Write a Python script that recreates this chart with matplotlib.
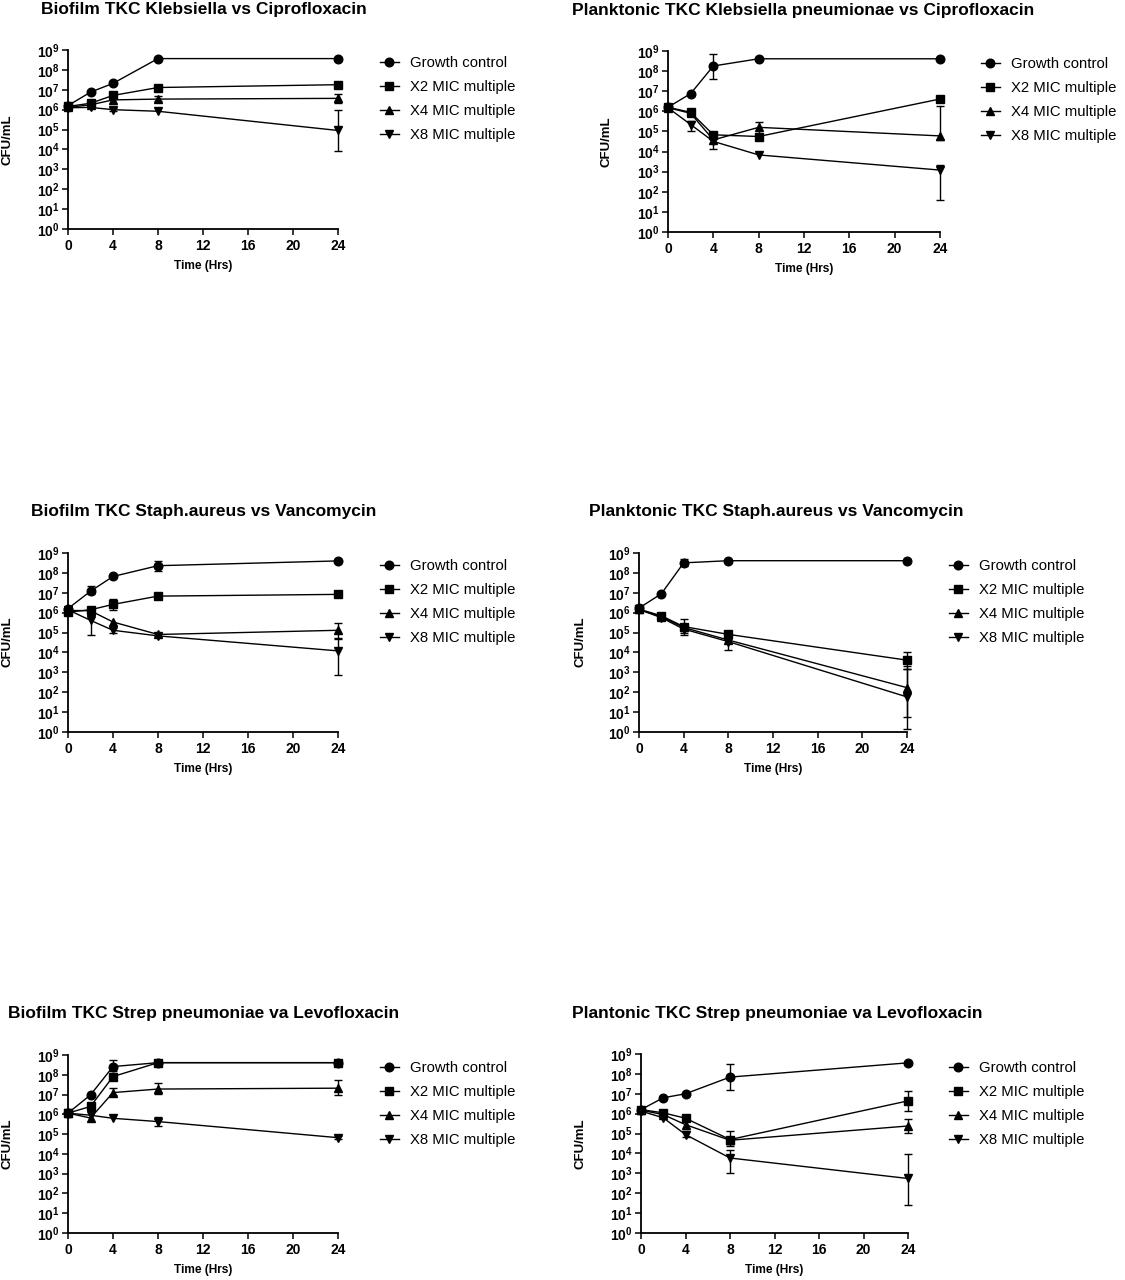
import numpy as np
import matplotlib
matplotlib.use("Agg")
import matplotlib.pyplot as plt
from matplotlib.ticker import FixedLocator, FixedFormatter

plt.rcParams['font.family'] = ['Liberation Sans', 'DejaVu Sans']
plt.rcParams['mathtext.fontset'] = 'custom'
plt.rcParams['mathtext.rm'] = 'Liberation Sans'
plt.rcParams['mathtext.bf'] = 'Liberation Sans:bold'

# ---------------- data ----------------
TIME_H = [0, 2, 4, 8, 24]
SERIES = ['Growth control', 'X2 MIC multiple', 'X4 MIC multiple', 'X8 MIC multiple']
X_TICKS = [0, 4, 8, 12, 16, 20, 24]
Y_EXPONENTS = list(range(0, 10))
X_LABEL = 'Time (Hrs)'
Y_LABEL = 'CFU/mL'
N = None

# Panel 1
P1_TITLE = 'Biofilm TKC Klebsiella vs Ciprofloxacin'
P1_GC = [1.6e6, 7.6e6, 2.1e7, 3.7e8, 3.7e8]
P1_X2 = [1.45e6, 2.1e6, 5.2e6, 1.3e7, 1.8e7]
P1_X4 = [1.3e6, 1.75e6, 3.1e6, 3.4e6, 3.7e6]
P1_X8 = [1.25e6, 1.3e6, 1.0e6, 8.3e5, 9.0e4]
P1_GC_LO, P1_GC_HI = [N, N, N, N, N], [N, N, N, N, N]
P1_X2_LO, P1_X2_HI = [N, N, 4.4e6, 1.05e7, N], [N, N, 6.3e6, 1.6e7, N]
P1_X4_LO, P1_X4_HI = [N, N, N, 2.6e6, 2.1e6], [N, N, N, 4.9e6, 6.4e6]
P1_X8_LO, P1_X8_HI = [N, N, 8.5e5, N, 8.0e3], [N, N, 1.2e6, N, 9.3e5]

# Panel 2
P2_TITLE = 'Planktonic TKC Klebsiella pneumionae vs Ciprofloxacin'
P2_GC = [1.6e6, 7.6e6, 1.8e8, 4.1e8, 4.1e8]
P2_X2 = [1.6e6, 8.9e5, 6.8e4, 5.6e4, 4.1e6]
P2_X4 = [1.5e6, 8.0e5, 3.8e4, 1.6e5, 6.0e4]
P2_X8 = [1.5e6, 2.2e5, 3.2e4, 6.8e3, 1.2e3]
P2_GC_LO, P2_GC_HI = [N, N, 4.1e7, N, N], [N, N, 7.4e8, N, N]
P2_X2_LO, P2_X2_HI = [N, N, N, N, N], [N, N, N, N, N]
P2_X4_LO, P2_X4_HI = [N, N, N, 7.6e4, 3.8e4], [N, N, N, 2.8e5, 1.8e6]
P2_X8_LO, P2_X8_HI = [N, 1.1e5, 1.3e4, N, 41], [N, 3.4e5, 4.1e4, N, 2.2e3]

# Panel 3
P3_TITLE = 'Biofilm TKC Staph.aureus vs Vancomycin'
P3_GC = [1.6e6, 1.2e7, 6.6e7, 2.3e8, 4.0e8]
P3_X2 = [1.07e6, 1.4e6, 2.6e6, 6.8e6, 8.3e6]
P3_X4 = [1.3e6, 1.25e6, 3.4e5, 8.0e4, 1.3e5]
P3_X8 = [1.4e6, 4.1e5, 1.3e5, 6.8e4, 1.2e4]
P3_GC_LO, P3_GC_HI = [N, 8.3e6, N, 1.2e8, N], [N, 2.1e7, N, 3.8e8, N]
P3_X2_LO, P3_X2_HI = [N, N, 1.3e6, N, N], [N, N, 4.6e6, N, N]
P3_X4_LO, P3_X4_HI = [N, N, N, 6.5e4, 5.4e4], [N, N, N, 1.0e5, 3.2e5]
P3_X8_LO, P3_X8_HI = [N, 7.4e4, 1.0e5, N, 7.4e2], [N, 9.6e5, 1.6e5, N, 5.0e4]

# Panel 4
P4_TITLE = 'Planktonic TKC Staph.aureus vs Vancomycin'
P4_GC = [1.7e6, 8.9e6, 3.2e8, 4.1e8, 4.1e8]
P4_X2 = [1.5e6, 7.0e5, 2.0e5, 8.1e4, 4.1e3]
P4_X4 = [1.45e6, 6.3e5, 1.8e5, 4.2e4, 1.7e2]
P4_X8 = [1.45e6, 5.6e5, 1.5e5, 3.5e4, 58]
P4_GC_LO, P4_GC_HI = [N, N, 2.1e8, N, N], [N, N, 5.0e8, N, N]
P4_X2_LO, P4_X2_HI = [N, N, 1.0e5, N, 1.5e3], [N, N, 4.8e5, N, 1.07e4]
P4_X4_LO, P4_X4_HI = [N, N, N, N, 5.5], [N, N, N, N, 2.2e3]
P4_X8_LO, P4_X8_HI = [N, N, 7.5e4, 1.3e4, 1.35], [N, N, 2.5e5, 1.0e5, 1.5e3]

# Panel 5
P5_TITLE = 'Biofilm TKC Strep pneumoniae va Levofloxacin'
P5_GC = [1.15e6, 9.6e6, 2.6e8, 4.1e8, 4.1e8]
P5_X2 = [1.15e6, 2.5e6, 8.1e7, 4.1e8, 4.1e8]
P5_X4 = [1.15e6, 6.5e5, 1.26e7, 1.9e7, 2.1e7]
P5_X8 = [1.15e6, 9.0e5, 6.3e5, 4.3e5, 6.6e4]
P5_GC_LO, P5_GC_HI = [N, N, 1.5e8, N, N], [N, N, 5.6e8, N, N]
P5_X2_LO, P5_X2_HI = [N, N, N, N, N], [N, N, N, N, N]
P5_X4_LO, P5_X4_HI = [N, N, 9.5e6, 1.07e7, 9.5e6], [N, N, 2.1e7, 3.7e7, 5.5e7]
P5_X8_LO, P5_X8_HI = [N, N, N, 2.6e5, 5.5e4], [N, N, N, 7.1e5, 8.0e4]

# Panel 6
P6_TITLE = 'Plantonic TKC Strep pneumoniae va Levofloxacin'
P6_GC = [1.6e6, 6.3e6, 1.0e7, 6.9e7, 3.6e8]
P6_X2 = [1.6e6, 1.1e6, 5.9e5, 5.0e4, 4.4e6]
P6_X4 = [1.5e6, 9.0e5, 2.8e5, 4.6e4, 2.4e5]
P6_X8 = [1.35e6, 6.2e5, 8.9e4, 5.9e3, 5.5e2]
P6_GC_LO, P6_GC_HI = [N, N, N, 1.5e7, N], [N, N, N, 3.2e8, N]
P6_X2_LO, P6_X2_HI = [N, N, N, 3.0e4, 1.4e6], [N, N, N, 1.3e5, 1.45e7]
P6_X4_LO, P6_X4_HI = [N, N, N, 2.5e4, 1.1e5], [N, N, N, N, 5.4e5]
P6_X8_LO, P6_X8_HI = [N, N, 6.8e4, 1.1e3, 25], [N, N, 1.3e5, 1.55e4, 9.5e3]

PANELS = [
    (P1_TITLE, [P1_GC, P1_X2, P1_X4, P1_X8],
     [(P1_GC_LO, P1_GC_HI), (P1_X2_LO, P1_X2_HI), (P1_X4_LO, P1_X4_HI), (P1_X8_LO, P1_X8_HI)]),
    (P2_TITLE, [P2_GC, P2_X2, P2_X4, P2_X8],
     [(P2_GC_LO, P2_GC_HI), (P2_X2_LO, P2_X2_HI), (P2_X4_LO, P2_X4_HI), (P2_X8_LO, P2_X8_HI)]),
    (P3_TITLE, [P3_GC, P3_X2, P3_X4, P3_X8],
     [(P3_GC_LO, P3_GC_HI), (P3_X2_LO, P3_X2_HI), (P3_X4_LO, P3_X4_HI), (P3_X8_LO, P3_X8_HI)]),
    (P4_TITLE, [P4_GC, P4_X2, P4_X4, P4_X8],
     [(P4_GC_LO, P4_GC_HI), (P4_X2_LO, P4_X2_HI), (P4_X4_LO, P4_X4_HI), (P4_X8_LO, P4_X8_HI)]),
    (P5_TITLE, [P5_GC, P5_X2, P5_X4, P5_X8],
     [(P5_GC_LO, P5_GC_HI), (P5_X2_LO, P5_X2_HI), (P5_X4_LO, P5_X4_HI), (P5_X8_LO, P5_X8_HI)]),
    (P6_TITLE, [P6_GC, P6_X2, P6_X4, P6_X8],
     [(P6_GC_LO, P6_GC_HI), (P6_X2_LO, P6_X2_HI), (P6_X4_LO, P6_X4_HI), (P6_X8_LO, P6_X8_HI)]),
]

# ---------------- layout (pixels) ----------------
W, H = 1125, 1280
# axes: x0, x1, ytop, ybottom
AX_BOX = [(68, 338, 50, 229), (668, 940, 51, 232),
          (68, 338, 553, 732), (639, 907, 553, 732),
          (68, 338, 1055, 1233), (641, 908, 1054, 1233)]
TITLE_POS = [(41, 14), (572, 15), (31, 516), (589, 516), (8, 1018), (572, 1018)]
YLAB_POS = [(8, 140), (607, 142), (8, 642), (580, 642), (8, 1144), (581, 1144)]
LEG_POS = [(380, 62), (981, 63), (380, 565), (949, 565), (380, 1067), (949, 1067)]
MARKERS = ['o', 's', '^', 'v']
MSIZE = [6.2, 5.6, 5.8, 5.8]

fig = plt.figure(figsize=(W / 100, H / 100), dpi=100)

for (title, vals, errs), box, tpos, ypos, lpos in zip(PANELS, AX_BOX, TITLE_POS, YLAB_POS, LEG_POS):
    x0, x1, yt, yb = box
    ax = fig.add_axes([x0 / W, 1 - yb / H, (x1 - x0) / W, (yb - yt) / H])
    ax.set_yscale('log')
    handles = []
    for i, (v, (lo, hi)) in enumerate(zip(vals, errs)):
        v = np.array(v, dtype=float)
        lo_a = np.array([np.nan if a is None else a for a in lo], dtype=float)
        hi_a = np.array([np.nan if a is None else a for a in hi], dtype=float)
        lower = np.where(np.isnan(lo_a), 0, v - lo_a)
        upper = np.where(np.isnan(hi_a), 0, hi_a - v)
        has = ~(np.isnan(lo_a) & np.isnan(hi_a))
        ln, = ax.plot(TIME_H, v, color='black', lw=1.0, marker=MARKERS[i],
                      ms=MSIZE[i], mfc='black', mec='black', clip_on=False,
                      zorder=3 + i, label=SERIES[i])
        handles.append(ln)
        if has.any():
            t = np.array(TIME_H)[has]
            cont = ax.errorbar(t, v[has], yerr=[lower[has], upper[has]], fmt='none',
                               ecolor='black', elinewidth=1.0, capsize=2.8, capthick=1.0,
                               zorder=3 + i)
            for art in cont.lines[1] + tuple(cont.lines[2]):
                art.set_clip_on(False)
    ax.set_xlim(0, 24)
    ax.set_ylim(1, 1e9)
    ax.xaxis.set_major_locator(FixedLocator(X_TICKS))
    ax.set_xticklabels([str(t) for t in X_TICKS], fontsize=10, fontweight='bold')
    ax.yaxis.set_major_locator(FixedLocator([10.0 ** e for e in Y_EXPONENTS]))
    ax.yaxis.set_major_formatter(FixedFormatter([r'$\mathbf{10^{%d}}$' % e for e in Y_EXPONENTS]))
    ax.yaxis.set_minor_locator(FixedLocator([]))
    ax.tick_params(axis='y', labelsize=10, length=4, width=1.1, pad=2)
    ax.tick_params(axis='x', length=4, width=1.1, pad=3)
    for s in ['top', 'right']:
        ax.spines[s].set_visible(False)
    for s in ['left', 'bottom']:
        ax.spines[s].set_linewidth(1.3)
    ax.patch.set_alpha(0)
    ax.set_xlabel(X_LABEL, fontsize=8.6, fontweight='bold', labelpad=5)
    fig.text(tpos[0] / W, 1 - tpos[1] / H, title, fontsize=12.5, fontweight='bold',
             ha='left', va='baseline')
    fig.text(ypos[0] / W, 1 - ypos[1] / H, Y_LABEL, fontsize=9.5, fontweight='bold',
             rotation=90, ha='center', va='center')
    leg = ax.legend(handles=handles, loc='upper left',
                    bbox_to_anchor=(lpos[0] / W, 1 - (lpos[1] - 6) / H),
                    bbox_transform=fig.transFigure, frameon=False, fontsize=10.7,
                    handlelength=1.25, handletextpad=0.8, labelspacing=0.67,
                    borderpad=0, borderaxespad=0, markerscale=1.0)

fig.savefig('out.png', dpi=100)
